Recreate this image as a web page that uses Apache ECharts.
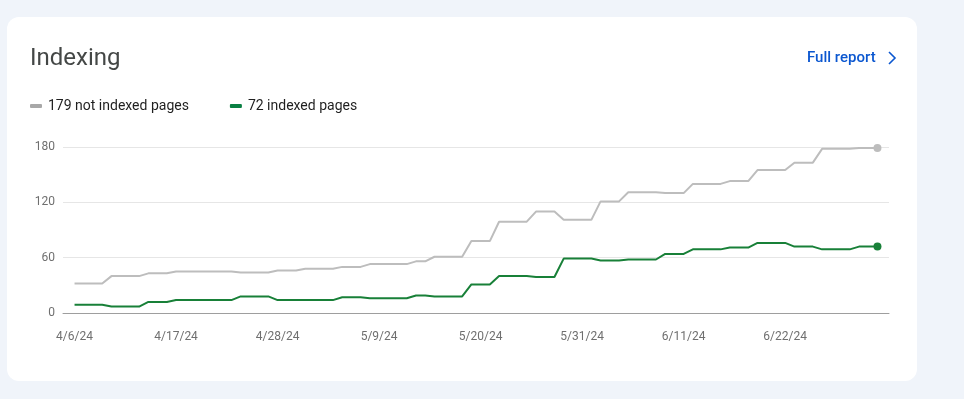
<!DOCTYPE html>
<html>
<head>
<meta charset="utf-8">
<script src="https://cdn.jsdelivr.net/npm/echarts@6/dist/echarts.min.js"></script>
<style>
  html, body { margin: 0; padding: 0; background: #f0f4fa; }
  #card {
    position: absolute; left: 7px; top: 17px; width: 910px; height: 364px;
    background: #ffffff; border-radius: 12px;
  }
  #chart { position: absolute; left: 0; top: 0; width: 964px; height: 399px; }
</style>
</head>
<body>
<div id="card"></div>
<div id="chart"></div>
<script>
// daily dates, 4/6/24 .. 7/2/24
var dates = [
  '4/6/24','4/7/24','4/8/24','4/9/24','4/10/24','4/11/24','4/12/24','4/13/24','4/14/24','4/15/24',
  '4/16/24','4/17/24','4/18/24','4/19/24','4/20/24','4/21/24','4/22/24','4/23/24','4/24/24','4/25/24',
  '4/26/24','4/27/24','4/28/24','4/29/24','4/30/24','5/1/24','5/2/24','5/3/24','5/4/24','5/5/24',
  '5/6/24','5/7/24','5/8/24','5/9/24','5/10/24','5/11/24','5/12/24','5/13/24','5/14/24','5/15/24',
  '5/16/24','5/17/24','5/18/24','5/19/24','5/20/24','5/21/24','5/22/24','5/23/24','5/24/24','5/25/24',
  '5/26/24','5/27/24','5/28/24','5/29/24','5/30/24','5/31/24','6/1/24','6/2/24','6/3/24','6/4/24',
  '6/5/24','6/6/24','6/7/24','6/8/24','6/9/24','6/10/24','6/11/24','6/12/24','6/13/24','6/14/24',
  '6/15/24','6/16/24','6/17/24','6/18/24','6/19/24','6/20/24','6/21/24','6/22/24','6/23/24','6/24/24',
  '6/25/24','6/26/24','6/27/24','6/28/24','6/29/24','6/30/24','7/1/24','7/2/24'
];
// tick labels shown on the x axis
var tickLabels = ['4/6/24', '4/17/24', '4/28/24', '5/9/24', '5/20/24', '5/31/24', '6/11/24', '6/22/24'];

var notIndexed = [
  32, 32, 32, 32, 40, 40, 40, 40, 43, 43,
  43, 45, 45, 45, 45, 45, 45, 45, 44, 44,
  44, 44, 46, 46, 46, 48, 48, 48, 48, 50,
  50, 50, 53, 53, 53, 53, 53, 56, 56, 61,
  61, 61, 61, 78, 78, 78, 99, 99, 99, 99,
  110, 110, 110, 101, 101, 101, 101, 121, 121, 121,
  131, 131, 131, 131, 130, 130, 130, 140, 140, 140,
  140, 143, 143, 143, 155, 155, 155, 155, 163, 163,
  163, 178, 178, 178, 178, 179, 179, 179
];
var indexed = [
  9, 9, 9, 9, 7, 7, 7, 7, 12, 12,
  12, 14, 14, 14, 14, 14, 14, 14, 18, 18,
  18, 18, 14, 14, 14, 14, 14, 14, 14, 17,
  17, 17, 16, 16, 16, 16, 16, 19, 19, 18,
  18, 18, 18, 31, 31, 31, 40, 40, 40, 40,
  39, 39, 39, 59, 59, 59, 59, 57, 57, 57,
  58, 58, 58, 58, 64, 64, 64, 69, 69, 69,
  69, 71, 71, 71, 76, 76, 76, 76, 72, 72,
  72, 69, 69, 69, 69, 72, 72, 72
];
var seriesNames = ['179 not indexed pages', '72 indexed pages'];
var seriesColors = ['#bdbdbd', '#188038'];
var legendColors = ['#a8a8a8', '#0a8043'];

var tickDays = tickLabels.map(function (t) { return dates.indexOf(t); });
var toPoints = function (arr) {
  return arr.map(function (v, i) { return [i, v]; });
};
var lastPoint = function (arr) {
  return [{ coord: [arr.length - 1, arr[arr.length - 1]] }];
};

var chart = echarts.init(document.getElementById('chart'));
var font = 'Roboto, "Noto Sans", sans-serif';

var makeSeries = function (name, color, legendColor, arr, z) {
  return {
    name: name,
    type: 'line',
    data: toPoints(arr),
    showSymbol: false,
    symbol: 'circle',
    z: z,
    lineStyle: { color: color, width: 2 },
    itemStyle: { color: legendColor },
    markPoint: {
      symbol: 'circle',
      symbolSize: 8,
      label: { show: false },
      itemStyle: { color: color },
      data: lastPoint(arr)
    }
  };
};

var option = {
  animation: false,
  textStyle: { fontFamily: font },
  title: {
    text: 'Indexing',
    left: 30,
    top: 47,
    padding: 0,
    textStyle: { fontSize: 24, fontWeight: 400, color: '#444746', fontFamily: font }
  },
  legend: {
    left: 30,
    top: 99,
    padding: 0,
    icon: 'roundRect',
    itemWidth: 12,
    itemHeight: 4,
    itemGap: 41,
    textStyle: { fontSize: 14, color: '#1f1f1f', padding: [0, 0, 0, 1] },
    data: seriesNames
  },
  graphic: [
    {
      type: 'text',
      left: 807,
      top: 51,
      style: { text: 'Full report', fill: '#0b57d0', font: '500 15px ' + font }
    },
    {
      type: 'polyline',
      shape: { points: [[889, 52], [895, 58], [889, 64]] },
      style: { stroke: '#0b57d0', lineWidth: 1.6, fill: null }
    }
  ],
  grid: { left: 63, right: 75, top: 147, bottom: 86 },
  xAxis: {
    type: 'value',
    min: -1.25,
    max: 88.25,
    axisLine: { show: true, lineStyle: { color: '#9e9e9e', width: 1 } },
    axisTick: { show: false },
    splitLine: { show: false },
    axisLabel: {
      customValues: tickDays,
      margin: 18,
      fontSize: 12,
      color: '#6f6f6f',
      formatter: function (v) { return dates[v]; }
    }
  },
  yAxis: {
    type: 'value',
    min: 0,
    max: 180,
    interval: 60,
    axisLine: { show: false },
    axisTick: { show: false },
    splitLine: { lineStyle: { color: '#e6e6e6', width: 1 } },
    axisLabel: { margin: 8, fontSize: 12, color: '#6f6f6f' }
  },
  series: [
    makeSeries(seriesNames[0], seriesColors[0], legendColors[0], notIndexed, 2),
    makeSeries(seriesNames[1], seriesColors[1], legendColors[1], indexed, 3)
  ]
};
chart.setOption(option);
</script>
</body>
</html>
